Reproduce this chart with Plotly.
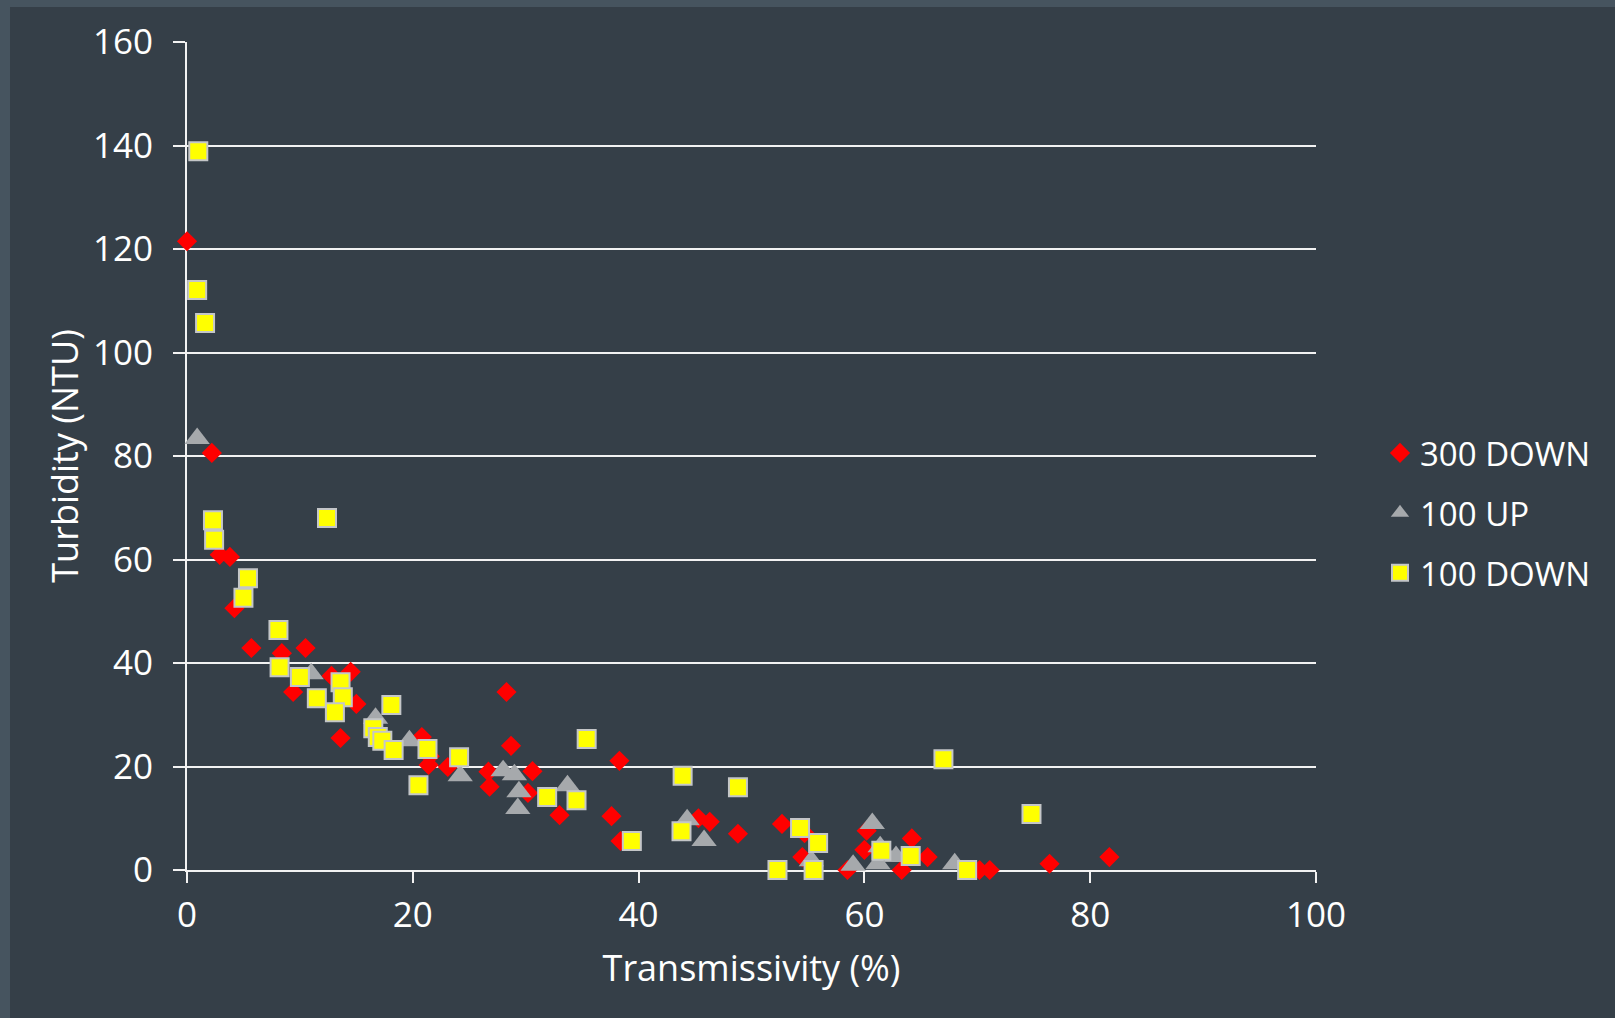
import plotly.graph_objects as go

# Transmissivity (%) vs turbidity (NTU) for three sensor runs
down300_x = [0.0, 2.2, 2.9, 3.8, 4.2, 5.7, 8.4, 9.4, 10.5, 12.8, 13.6, 14.5, 15.0,
             20.8, 21.5, 21.4, 23.1, 26.7, 26.8, 28.3, 28.7, 30.2, 30.6, 33.0,
             37.6, 38.3, 38.4, 45.3, 46.3, 48.8, 52.7, 54.7, 54.5, 58.5, 60.2,
             60.0, 63.3, 64.2, 65.6, 70.2, 71.1, 76.4, 81.7]
down300_y = [121.5, 80.6, 60.9, 60.5, 50.6, 42.9, 41.9, 34.4, 42.9, 37.5, 25.5, 38.3, 32.1,
             25.7, 22.0, 20.3, 19.9, 19.0, 16.1, 34.4, 24.0, 14.9, 19.1, 10.6,
             10.4, 21.1, 5.6, 10.0, 9.3, 7.0, 8.9, 7.1, 2.5, 0.0, 7.6,
             3.9, 0.0, 6.1, 2.5, 0.0, 0.0, 1.2, 2.5]

up100_x = [0.9, 11.0, 16.7, 19.7, 24.2, 28.0, 29.0, 29.4, 29.3, 33.7, 44.3, 45.8,
           55.3, 59.0, 60.7, 61.4, 61.2, 62.8, 68.0]
up100_y = [83.4, 37.9, 29.3, 25.0, 18.2, 19.2, 18.4, 15.1, 11.9, 16.3, 9.7, 5.7,
           1.8, 0.9, 9.0, 4.5, 1.2, 2.6, 1.2]

down100_x = [1.0, 0.9, 1.6, 2.3, 2.4, 5.4, 5.0, 8.1, 8.2, 10.0, 11.5, 12.4, 13.6,
             13.8, 13.1, 18.1, 16.5, 16.9, 17.3, 18.3, 21.3, 20.5, 24.1, 31.9,
             34.5, 35.4, 39.4, 43.9, 43.8, 48.8, 52.3, 54.3, 55.9, 55.5, 61.5,
             64.1, 67.0, 69.1, 74.8]
down100_y = [138.9, 112.1, 105.7, 67.6, 63.8, 56.4, 52.6, 46.4, 39.2, 37.3, 33.2, 68.0, 36.3,
             33.4, 30.5, 31.9, 27.4, 25.7, 25.0, 23.2, 23.4, 16.4, 21.8, 14.1,
             13.5, 25.3, 5.6, 18.2, 7.5, 16.0, 0.0, 8.1, 5.2, 0.0, 3.7,
             2.7, 21.4, 0.0, 10.8]

x_ticks = [0, 20, 40, 60, 80, 100]
y_ticks = [0, 20, 40, 60, 80, 100, 120, 140, 160]

W, H = 1615, 1018
ML, MR, MT, MB = 187, 299, 42, 148
PW, PH = W - ML - MR, H - MT - MB

FONT = "Open Sans"
BG = "#353f48"
EDGE = "#46545f"
LINE = "#f2f2f2"

fig = go.Figure()
fig.add_trace(go.Scatter(
    x=down300_x, y=down300_y, mode="markers", name="300 DOWN", legendgroup="a",
    marker=dict(symbol="diamond", size=15.5, color="#ff0000", line=dict(width=0)),
    cliponaxis=False))
fig.add_trace(go.Scatter(
    x=up100_x, y=up100_y, mode="markers", name="100 UP", legendgroup="b",
    marker=dict(symbol="triangle-up", size=22, color="#a6a9ac", line=dict(width=0)),
    cliponaxis=False))
fig.add_trace(go.Scatter(
    x=down100_x, y=down100_y, mode="markers", name="100 DOWN", legendgroup="c",
    marker=dict(symbol="square", size=18, color="#ffff00",
                line=dict(width=2, color="#c4c6c8")),
    cliponaxis=False))

# darker inner panel, leaving a thin lighter frame on the left and top
fig.add_shape(type="rect", xref="paper", yref="paper", layer="below",
              x0=(10 - ML) / PW, x1=(W - ML) / PW + 0.01,
              y0=-(MB + 5) / PH, y1=(H - MB - 7) / PH,
              fillcolor=BG, line=dict(width=0))

fig.update_layout(
    width=W, height=H,
    margin=dict(l=ML, r=MR, t=MT, b=MB, autoexpand=False),
    paper_bgcolor=EDGE, plot_bgcolor=BG,
    font=dict(family=FONT, color="#ffffff"),
    showlegend=True,
    legend=dict(x=(1380 - ML) / PW, xanchor="left", y=(H - MB - 513) / PH, yanchor="middle",
                font=dict(size=33, family=FONT, color="#ffffff"),
                bgcolor="rgba(0,0,0,0)", tracegroupgap=14, itemwidth=30),
    xaxis=dict(range=[0, 100], tickvals=x_ticks, showgrid=False, zeroline=False,
               showline=True, linecolor=LINE, linewidth=2, layer="below traces",
               ticks="outside", ticklen=11, tickwidth=1.5, tickcolor=LINE,
               ticklabelstandoff=2,
               tickfont=dict(size=35, family=FONT, color="#ffffff"),
               title=dict(text="Transmissivity (%)", standoff=20,
                          font=dict(size=36, family=FONT, color="#ffffff"))),
    yaxis=dict(range=[0, 160], tickvals=y_ticks, showgrid=True, gridcolor=LINE,
               gridwidth=2, zeroline=False,
               showline=True, linecolor=LINE, linewidth=2, layer="below traces",
               ticks="outside", ticklen=12, tickwidth=2, tickcolor=LINE,
               ticklabelstandoff=13,
               tickfont=dict(size=35, family=FONT, color="#ffffff"),
               title=dict(text="Turbidity (NTU)", standoff=3,
                          font=dict(size=36, family=FONT, color="#ffffff"))),
)

fig.write_html("out.html")
